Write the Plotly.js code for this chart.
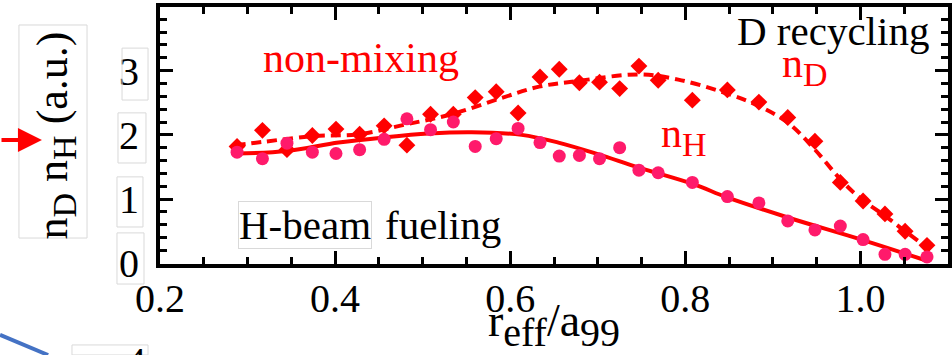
<!DOCTYPE html>
<html>
<head>
<meta charset="utf-8">
<script src="https://cdn.plot.ly/plotly-3.0.1.min.js"></script>
<style>
html,body{margin:0;padding:0;background:#fff;}
#chart{width:952px;height:355px;}
</style>
</head>
<body>
<div id="chart"></div>
<script>
// ---- data ----
var rEff = [0.288, 0.317, 0.345, 0.374, 0.401, 0.428, 0.456, 0.482, 0.509, 0.535, 0.560, 0.584, 0.609, 0.634, 0.656, 0.679, 0.702, 0.725, 0.747, 0.769, 0.808, 0.848, 0.884, 0.917, 0.948, 0.977, 1.003, 1.028, 1.051, 1.076];
var nH = [1.73, 1.63, 1.87, 1.73, 1.71, 1.77, 1.93, 2.25, 2.08, 2.20, 1.82, 1.94, 2.10, 1.88, 1.67, 1.68, 1.63, 1.80, 1.45, 1.41, 1.26, 1.04, 0.94, 0.66, 0.52, 0.58, 0.37, 0.14, 0.14, 0.10];
var nD = [1.82, 2.07, 1.77, 1.99, 2.09, 2.01, 2.14, 1.84, 2.32, 2.32, 2.58, 2.67, 2.34, 2.90, 3.02, 2.81, 2.82, 2.72, 3.07, 2.85, 2.54, 2.70, 2.51, 2.27, 1.90, 1.26, 0.97, 0.77, 0.50, 0.28];

var fitHx = [0.288, 0.345, 0.404, 0.456, 0.507, 0.556, 0.613, 0.655, 0.700, 0.747, 0.810, 0.847, 0.918, 1.001, 1.076];
var fitH  = [1.71, 1.75, 1.88, 1.96, 2.02, 2.04, 2.00, 1.88, 1.70, 1.49, 1.23, 1.03, 0.71, 0.37, 0.04];

var fitDx = [0.286, 0.317, 0.374, 0.427, 0.480, 0.533, 0.587, 0.633, 0.678, 0.747, 0.792, 0.846, 0.884, 0.918, 0.948, 0.979, 1.001, 1.028, 1.051, 1.078];
var fitD  = [1.84, 1.89, 1.98, 2.01, 2.16, 2.32, 2.56, 2.75, 2.84, 2.94, 2.86, 2.65, 2.45, 2.18, 1.77, 1.28, 1.00, 0.74, 0.50, 0.23];

var xTicks = [0.2, 0.4, 0.6, 0.8, 1.0];
var xTickText = ['0.2', '0.4', '0.6', '0.8', '1.0'];
var yTicks = [0, 1, 2, 3];
var yTickText = ['0', '1', '2', '3'];

var FONT = 'Liberation Serif, Times New Roman, serif';

function sub(t, px) { return '<sub><span style="font-size:' + px + 'px">' + t + '</span></sub>'; }

var traces = [
  {x: fitDx, y: fitD, mode: 'lines', line: {color: '#ff0000', width: 4, dash: '10px,6px', shape: 'spline'}, hoverinfo: 'skip', showlegend: false},
  {x: fitHx, y: fitH, mode: 'lines', line: {color: '#ff0000', width: 4, shape: 'spline'}, hoverinfo: 'skip', showlegend: false},
  {x: rEff, y: nD, mode: 'markers', marker: {symbol: 'diamond', size: 13, color: '#ff0000'}, showlegend: false},
  {x: rEff, y: nH, mode: 'markers', marker: {symbol: 'circle', size: 13, color: '#ff1a6b'}, showlegend: false}
];

var grey = '#d9d9d9';
var layout = {
  width: 952, height: 355,
  margin: {l: 160, r: 4, t: 7, b: 91},
  paper_bgcolor: '#ffffff', plot_bgcolor: '#ffffff',
  font: {family: FONT, color: '#000', size: 40},
  showlegend: false,
  xaxis: {
    range: [0.2, 1.1], tickvals: xTicks, ticktext: xTickText,
    showgrid: false, zeroline: false,
    showline: true, linecolor: '#000', linewidth: 4, mirror: 'ticks',
    ticks: 'inside', ticklen: 13, tickwidth: 3, tickcolor: '#000',
    minor: {dtick: 0.05, tick0: 0.2, ticks: 'inside', ticklen: 7, tickwidth: 3, tickcolor: '#000', showgrid: false},
    tickfont: {family: FONT, size: 40, color: '#000'},
    ticklabelstandoff: -4,
    title: {text: 'r' + sub('eff', 40) + '/a' + sub('99', 40), font: {family: FONT, size: 46, color: '#000'}, standoff: 0}
  },
  yaxis: {
    range: [-0.01, 3.99], tickvals: yTicks, ticktext: yTickText,
    showgrid: false, zeroline: false,
    showline: true, linecolor: '#000', linewidth: 4, mirror: 'ticks',
    ticks: 'inside', ticklen: 13, tickwidth: 3, tickcolor: '#000',
    minor: {dtick: 0.2, tick0: 0, ticks: 'inside', ticklen: 7, tickwidth: 3, tickcolor: '#000', showgrid: false},
    tickfont: {family: FONT, size: 40, color: '#000'},
    ticklabelstandoff: 9,
    title: {text: 'n' + sub('D', 34) + ' n' + sub('H', 34) + ' (a.u.)', font: {family: FONT, size: 44, color: '#000'}, standoff: 39}
  },
  annotations: [
    {x: 0.429, y: 3.19, xref: 'x', yref: 'y', text: 'non-mixing', showarrow: false, font: {family: FONT, size: 42, color: '#ff0000'}},
    {x: 0.969, y: 3.62, xref: 'x', yref: 'y', text: 'D recycling', showarrow: false, font: {family: FONT, size: 41, color: '#000'}},
    {x: 0.937, y: 3.06, xref: 'x', yref: 'y', text: 'n' + sub('D', 34), showarrow: false, font: {family: FONT, size: 42, color: '#ff0000'}},
    {x: 0.798, y: 1.98, xref: 'x', yref: 'y', text: 'n' + sub('H', 34), showarrow: false, font: {family: FONT, size: 42, color: '#ff0000'}},
    {x: 0.366, y: 0.59, xref: 'x', yref: 'y', text: 'H-beam', showarrow: false, font: {family: FONT, size: 41, color: '#000'}, bordercolor: grey, borderwidth: 1, borderpad: 0},
    {x: 0.523, y: 0.59, xref: 'x', yref: 'y', text: 'fueling', showarrow: false, font: {family: FONT, size: 41, color: '#000'}},
    {x: -0.1498, y: 0.4825, xref: 'paper', yref: 'paper', ax: -44, ay: 0, axref: 'pixel', ayref: 'pixel', text: '', showarrow: true, arrowhead: 2, arrowsize: 1.2, arrowwidth: 4, arrowcolor: '#ff0000', standoff: 0},
    {x: -0.015, y: -0.285, xref: 'paper', yref: 'paper', xanchor: 'right', yanchor: 'top', text: '4', showarrow: false, font: {family: FONT, size: 40, color: '#000'}}
  ],
  shapes: [
    {type: 'rect', xref: 'paper', yref: 'paper', x0: -0.179, x1: -0.0926, y0: 0.101, y1: 0.930, line: {color: grey, width: 1}},
    {type: 'rect', xref: 'paper', yref: 'paper', x0: -0.0482, x1: -0.0152, y0: 0.638, y1: 0.840, line: {color: grey, width: 1}},
    {type: 'rect', xref: 'paper', yref: 'paper', x0: -0.0533, x1: -0.0178, y0: 0.393, y1: 0.588, line: {color: grey, width: 1}},
    {type: 'rect', xref: 'paper', yref: 'paper', x0: -0.0546, x1: -0.0216, y0: 0.144, y1: 0.339, line: {color: grey, width: 1}},
    {type: 'rect', xref: 'paper', yref: 'paper', x0: -0.0546, x1: -0.0203, y0: -0.078, y1: 0.121, line: {color: grey, width: 1}},
    {type: 'rect', xref: 'paper', yref: 'paper', x0: -0.1117, x1: -0.0152, y0: -0.354, y1: -0.315, line: {color: grey, width: 1}},
    {type: 'line', xref: 'paper', yref: 'paper', x0: -0.203, y0: -0.276, x1: -0.142, y1: -0.354, line: {color: '#4472c4', width: 4}}
  ]
};

Plotly.newPlot('chart', traces, layout, {displayModeBar: false, staticPlot: true});
</script>
</body>
</html>
